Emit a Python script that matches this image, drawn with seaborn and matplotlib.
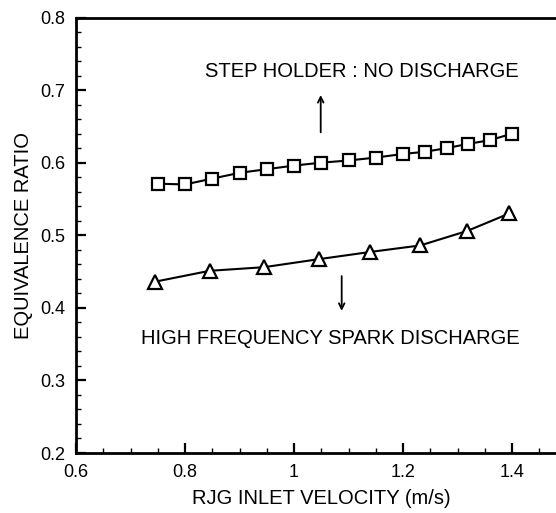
import matplotlib
matplotlib.use("Agg")
import matplotlib.pyplot as plt
import seaborn as sns
import pandas as pd
from matplotlib.ticker import MultipleLocator, FuncFormatter

# Data
step_x = [0.75, 0.80, 0.85, 0.90, 0.95, 1.00, 1.05, 1.10, 1.15, 1.20, 1.24, 1.28, 1.32, 1.36, 1.40]
step_y = [0.571, 0.570, 0.578, 0.586, 0.591, 0.596, 0.600, 0.603, 0.607, 0.612, 0.615, 0.620, 0.626, 0.631, 0.640]
spark_x = [0.745, 0.845, 0.945, 1.045, 1.14, 1.232, 1.318, 1.395]
spark_y = [0.436, 0.451, 0.456, 0.467, 0.477, 0.486, 0.506, 0.530]

x_label = "RJG INLET VELOCITY (m/s)"
y_label = "EQUIVALENCE RATIO"
step_text = "STEP HOLDER : NO DISCHARGE"
spark_text = "HIGH FREQUENCY SPARK DISCHARGE"

sns.set_style("ticks")
plt.rcParams['font.family'] = ['Liberation Sans', 'DejaVu Sans']
plt.rcParams['text.color'] = 'black'
plt.rcParams['axes.labelcolor'] = 'black'
plt.rcParams['xtick.color'] = 'black'
plt.rcParams['ytick.color'] = 'black'
plt.rcParams['axes.edgecolor'] = 'black'

fig = plt.figure(figsize=(5.56, 5.13), dpi=100)
ax = fig.add_axes([76/556, 60/513, 490.5/556, 435.5/513])

df_step = pd.DataFrame({"x": step_x, "y": step_y})
df_spark = pd.DataFrame({"x": spark_x, "y": spark_y})

sns.lineplot(data=df_step, x="x", y="y", ax=ax, color="black", lw=1.5,
             marker="s", markersize=9, markerfacecolor="white",
             markeredgecolor="black", markeredgewidth=1.6, clip_on=False)
sns.lineplot(data=df_spark, x="x", y="y", ax=ax, color="black", lw=1.5,
             marker="^", markersize=10, markerfacecolor="white",
             markeredgecolor="black", markeredgewidth=1.6, clip_on=False)

ax.set_xlim(0.6, 1.5)
ax.set_ylim(0.2, 0.8)
ax.xaxis.set_major_locator(MultipleLocator(0.2))
ax.xaxis.set_minor_locator(MultipleLocator(0.05))
ax.yaxis.set_major_locator(MultipleLocator(0.1))
ax.yaxis.set_minor_locator(MultipleLocator(0.02))

def fmt(v, pos):
    s = f"{v:.1f}"
    if s.endswith(".0"):
        s = s[:-2]
    return s
ax.xaxis.set_major_formatter(FuncFormatter(fmt))
ax.yaxis.set_major_formatter(FuncFormatter(fmt))

ax.tick_params(which="major", direction="in", length=7, width=1.6, labelsize=13,
               top=False, right=False, colors="black")
ax.tick_params(axis="x", which="major", pad=8)
ax.tick_params(axis="y", which="major", pad=8)
ax.tick_params(which="minor", direction="in", length=3.6, width=1.0,
               top=False, right=False, colors="black")
for side in ["left", "bottom", "top"]:
    ax.spines[side].set_linewidth(2.0)
    ax.spines[side].set_color("black")
ax.spines["right"].set_visible(False)

ax.set_xlabel(x_label, fontsize=14.5, labelpad=6, color="black")
ax.set_ylabel(y_label, fontsize=14.5, labelpad=5, color="black")

ax.text(1.125, 0.725, step_text, ha="center", va="center", fontsize=14.5, color="black")
ax.text(1.066, 0.358, spark_text, ha="center", va="center", fontsize=14.5, color="black")
ax.annotate("", xy=(1.049, 0.697), xytext=(1.049, 0.638),
            arrowprops=dict(arrowstyle="->", color="black", lw=1.3))
ax.annotate("", xy=(1.0875, 0.392), xytext=(1.0875, 0.4476),
            arrowprops=dict(arrowstyle="->", color="black", lw=1.3))

fig.savefig("out.png", dpi=100)
